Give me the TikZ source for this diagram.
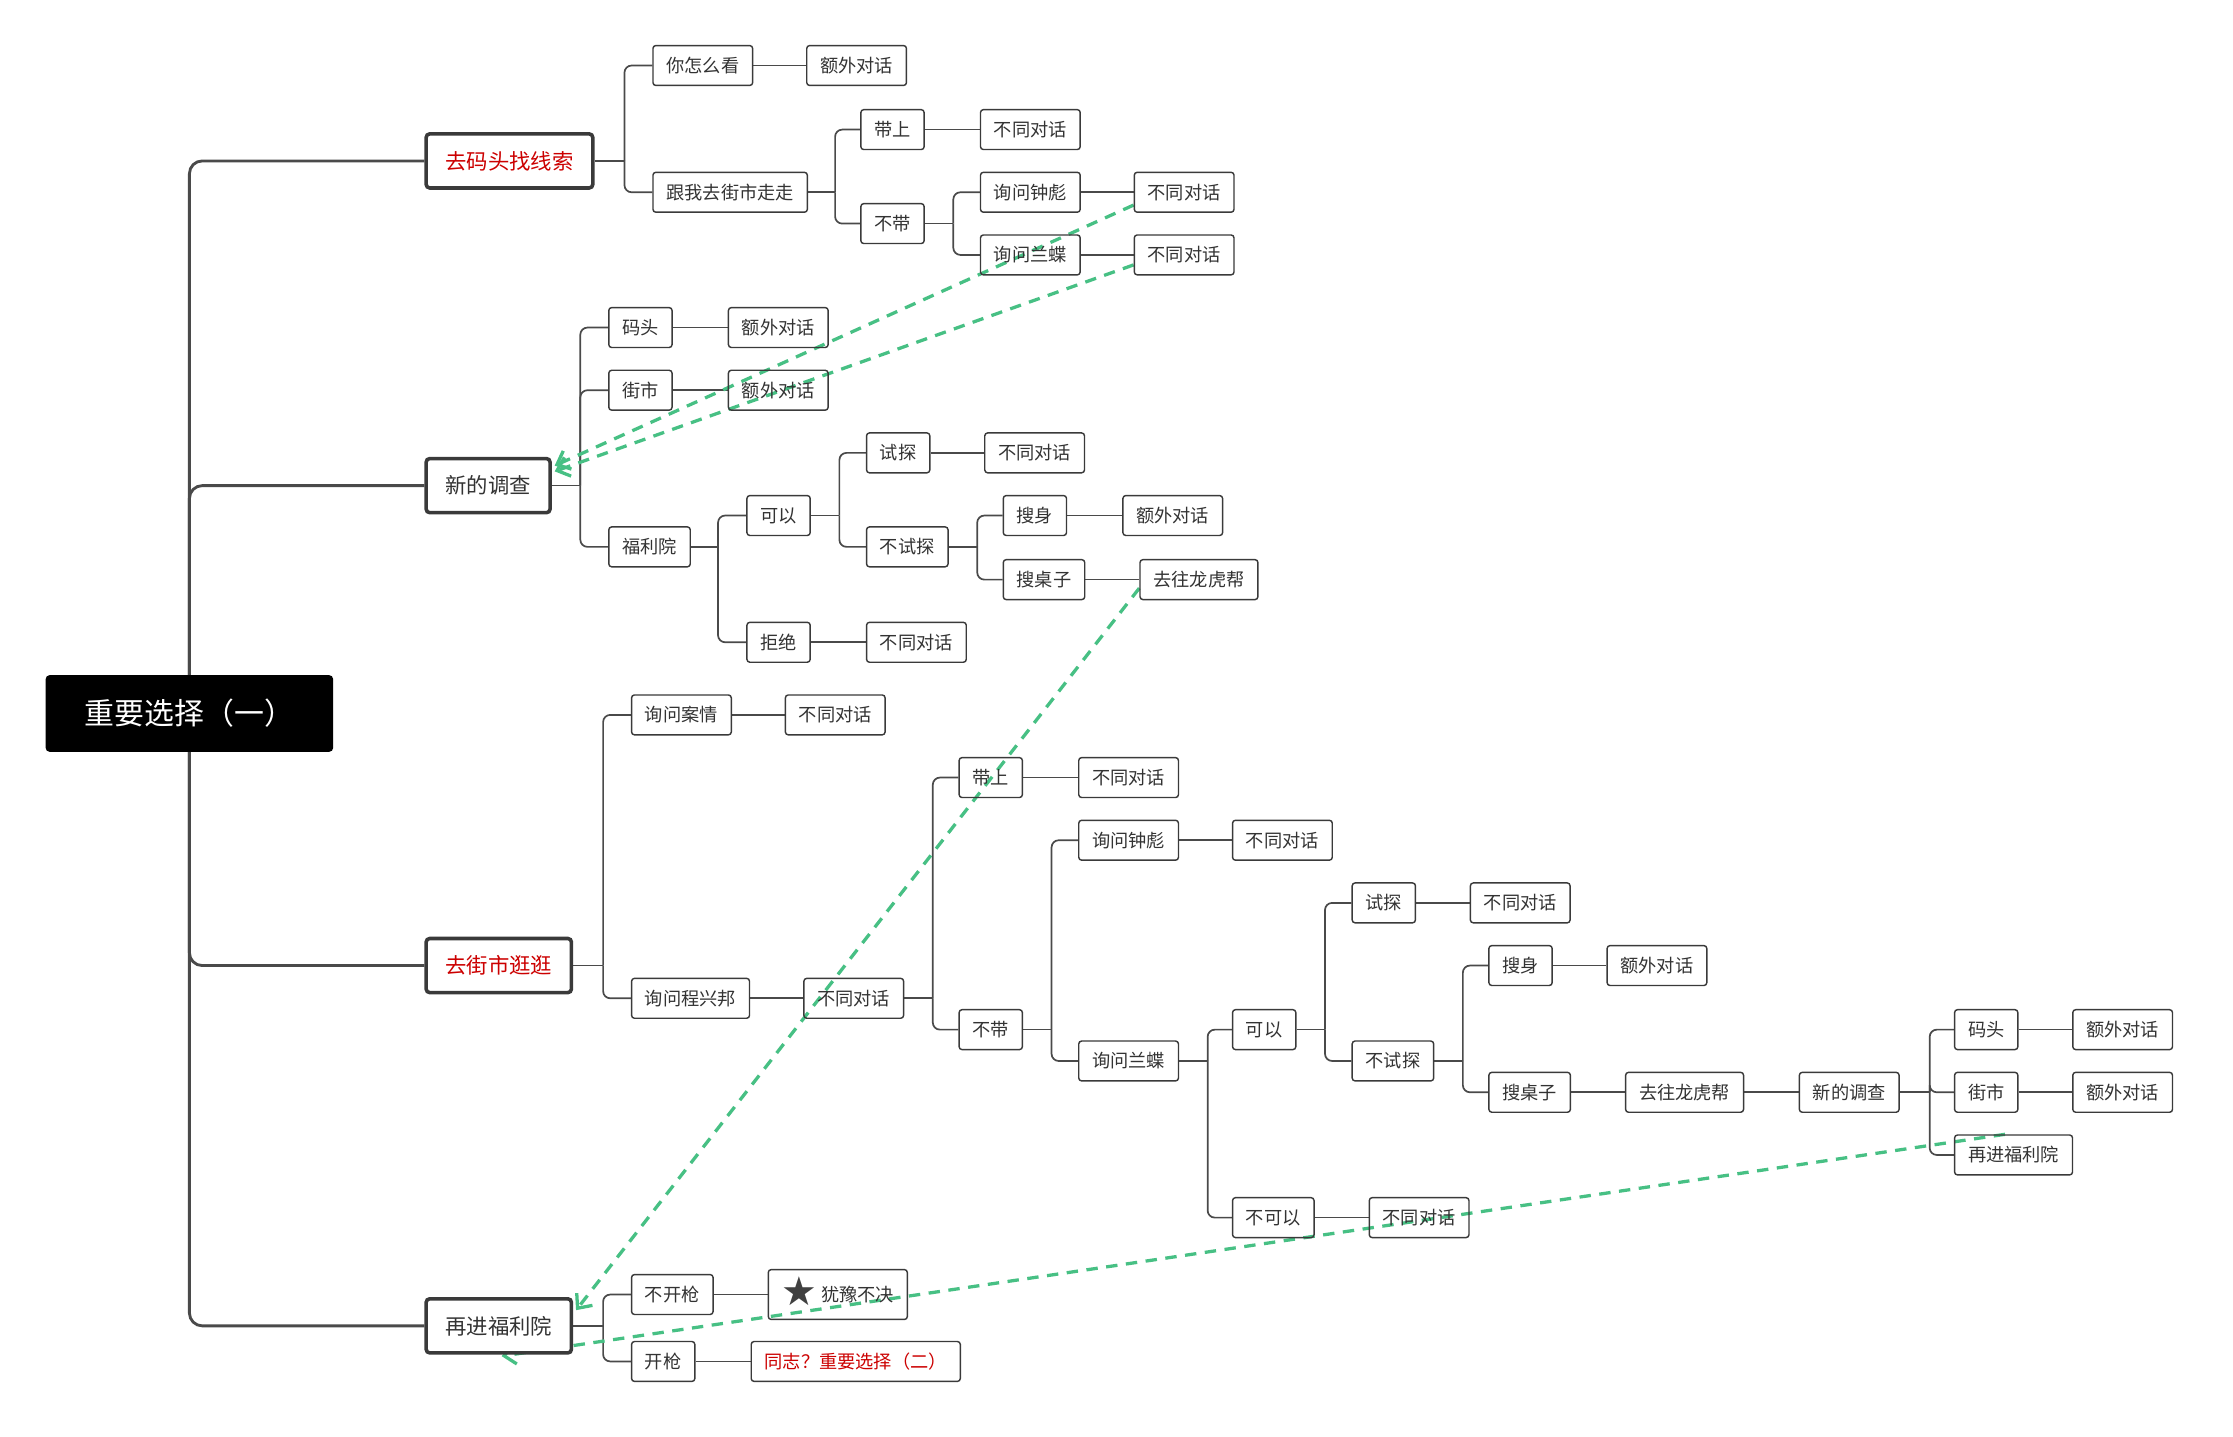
\documentclass[tikz,border=0pt]{standalone}
\usepackage{fontspec}
\newfontfamily\cjk{Noto Sans CJK SC}
\newfontfamily\symf{DejaVu Sans}
\usetikzlibrary{arrows.meta,calc,backgrounds}
\definecolor{linec}{HTML}{4A4A4A}
\definecolor{boxc}{HTML}{3A3A3A}
\definecolor{txtc}{HTML}{333333}
\definecolor{redc}{HTML}{CC0000}
\definecolor{relc}{HTML}{47C084}
\definecolor{starc}{HTML}{404040}
\pgfdeclarelayer{rellayer}
\pgfsetlayers{background,rellayer,main}
\tikzset{
 sm/.style={draw=boxc, line width=1pt, rounded corners=2pt, text=txtc,
   font=\cjk\fontsize{12.8}{14}\selectfont, inner xsep=9.4pt, inner ysep=0pt,
   minimum height=28pt, anchor=west},
 smred/.style={sm, text=redc},
 lv/.style={draw=boxc, line width=2.5pt, rounded corners=2.5pt, fill=white, text=txtc,
   font=\cjk\fontsize{15}{17}\selectfont, inner xsep=13.5pt, inner ysep=0pt,
   minimum height=38pt, anchor=west},
 lvred/.style={lv, text=redc},
 rootbox/.style={fill=black, rounded corners=3pt, text=white,
   font=\cjk\fontsize{21}{24}\selectfont, minimum width=202pt, minimum height=54pt, inner sep=0pt},
 conn/.style={draw=linec, line width=1.2pt},
 trunk/.style={draw=linec, line width=2pt, rounded corners=9pt},
 rel/.style={draw=relc, line width=2.3pt, dash pattern=on 8pt off 6pt,
   -{Straight Barb[length=8pt,width=14pt]}},
}
\newcommand\mmstub[2]{\draw[conn] (#1.east) -- ++(#2,0);}
\newcommand\mmkid[3]{\draw[conn,rounded corners=5pt] ($(#1.east)+(#3,0)$) |- (#2.west);}
\newcommand\mmlnk[2]{\draw[conn] (#1.east) -- (#2.west);}
\begin{document}
\begin{tikzpicture}[x=1pt,y=-1pt]
\useasboundingbox (0,0) rectangle (1568,1009);
% root and level 1
\node[rootbox] (root) at (133,501) {重要选择（一）};
\node[lvred] (L1a) at (298,113) {去码头找线索};
\node[lv] (L1b) at (298,341) {新的调查};
\node[lvred] (L1c) at (298,678) {去街市逛逛};
\node[lv] (L1d) at (298,931) {再进福利院};
% branch a
\node[sm] (a1) at (458,46) {你怎么看};
\node[sm] (a1d) at (566,46) {额外对话};
\node[sm] (a2) at (458,135) {跟我去街市走走};
\node[sm] (a21) at (604,91) {带上};
\node[sm] (a21d) at (688,91) {不同对话};
\node[sm] (a22) at (604,157) {不带};
\node[sm] (a221) at (688,135) {询问钟彪};
\node[sm] (a221d) at (796,135) {不同对话};
\node[sm] (a222) at (688,179) {询问兰蝶};
\node[sm] (a222d) at (796,179) {不同对话};
% branch b
\node[sm] (b1) at (427,230) {码头};
\node[sm] (b1d) at (511,230) {额外对话};
\node[sm] (b2) at (427,274) {街市};
\node[sm] (b2d) at (511,274) {额外对话};
\node[sm] (b3) at (427,384) {福利院};
\node[sm] (b31) at (524,362) {可以};
\node[sm] (b311) at (608,318) {试探};
\node[sm] (b311d) at (691,318) {不同对话};
\node[sm] (b312) at (608,384) {不试探};
\node[sm] (b3121) at (704,362) {搜身};
\node[sm] (b3121d) at (788,362) {额外对话};
\node[sm] (b3122) at (704,407) {搜桌子};
\node[sm] (b3122d) at (800,407) {去往龙虎帮};
\node[sm] (b32) at (524,451) {拒绝};
\node[sm] (b32d) at (608,451) {不同对话};
% branch c
\node[sm] (c1) at (443,502) {询问案情};
\node[sm] (c1d) at (551,502) {不同对话};
\node[sm] (c2) at (443,701) {询问程兴邦};
\node[sm] (c2d) at (564,701) {不同对话};
\node[sm] (c21) at (673,546) {带上};
\node[sm] (c21d) at (757,546) {不同对话};
\node[sm] (c22) at (673,723) {不带};
\node[sm] (c221) at (757,590) {询问钟彪};
\node[sm] (c221d) at (865,590) {不同对话};
\node[sm] (c222) at (757,745) {询问兰蝶};
\node[sm] (c2221) at (865,723) {可以};
\node[sm] (c22211) at (949,634) {试探};
\node[sm] (c22211d) at (1032,634) {不同对话};
\node[sm] (c22212) at (949,745) {不试探};
\node[sm] (c222121) at (1045,678) {搜身};
\node[sm] (c222121d) at (1128,678) {额外对话};
\node[sm] (c222122) at (1045,767) {搜桌子};
\node[sm] (lhb2) at (1141,767) {去往龙虎帮};
\node[sm] (xdc2) at (1263,767) {新的调查};
\node[sm] (m1) at (1372,723) {码头};
\node[sm] (m1d) at (1455,723) {额外对话};
\node[sm] (m2) at (1372,767) {街市};
\node[sm] (m2d) at (1455,767) {额外对话};
\node[sm] (m3) at (1372,811) {再进福利院};
\node[sm] (c2222) at (865,855) {不可以};
\node[sm] (c2222d) at (961,855) {不同对话};
% branch d
\node[sm] (d1) at (443,909) {不开枪};
\node[sm, minimum height=35pt] (d1d) at (539,909) {\smash{\raisebox{-3pt}{\symf\fontsize{28}{28}\selectfont\color{starc}★}}\hspace{2.5pt}犹豫不决};
\node[sm] (d2) at (443,956) {开枪};
\node[smred] (d2d) at (527,956) {同志？重要选择（二）};

\begin{pgfonlayer}{background}
\fill[white] (0,0) rectangle (1568,1009);
\draw[trunk] (root.center) |- (L1a.west);
\draw[trunk] (root.center) |- (L1b.west);
\draw[trunk] (root.center) |- (L1c.west);
\draw[trunk] (root.center) |- (L1d.west);
% a
\mmstub{L1a}{21} \mmkid{L1a}{a1}{21} \mmkid{L1a}{a2}{21}
\mmlnk{a1}{a1d}
\mmstub{a2}{19} \mmkid{a2}{a21}{19} \mmkid{a2}{a22}{19}
\mmlnk{a21}{a21d}
\mmstub{a22}{20} \mmkid{a22}{a221}{20} \mmkid{a22}{a222}{20}
\mmlnk{a221}{a221d} \mmlnk{a222}{a222d}
% b
\mmstub{L1b}{20} \mmkid{L1b}{b1}{20} \mmkid{L1b}{b2}{20} \mmkid{L1b}{b3}{20}
\mmlnk{b1}{b1d} \mmlnk{b2}{b2d}
\mmstub{b3}{19} \mmkid{b3}{b31}{19} \mmkid{b3}{b32}{19}
\mmstub{b31}{20} \mmkid{b31}{b311}{20} \mmkid{b31}{b312}{20}
\mmlnk{b311}{b311d}
\mmstub{b312}{20} \mmkid{b312}{b3121}{20} \mmkid{b312}{b3122}{20}
\mmlnk{b3121}{b3121d} \mmlnk{b3122}{b3122d}
\mmlnk{b32}{b32d}
% c
\mmstub{L1c}{21} \mmkid{L1c}{c1}{21} \mmkid{L1c}{c2}{21}
\mmlnk{c1}{c1d} \mmlnk{c2}{c2d}
\mmstub{c2d}{20} \mmkid{c2d}{c21}{20} \mmkid{c2d}{c22}{20}
\mmlnk{c21}{c21d}
\mmstub{c22}{20} \mmkid{c22}{c221}{20} \mmkid{c22}{c222}{20}
\mmlnk{c221}{c221d}
\mmstub{c222}{20} \mmkid{c222}{c2221}{20} \mmkid{c222}{c2222}{20}
\mmstub{c2221}{20} \mmkid{c2221}{c22211}{20} \mmkid{c2221}{c22212}{20}
\mmlnk{c22211}{c22211d}
\mmstub{c22212}{20} \mmkid{c22212}{c222121}{20} \mmkid{c22212}{c222122}{20}
\mmlnk{c222121}{c222121d}
\mmlnk{c222122}{lhb2} \mmlnk{lhb2}{xdc2}
\mmstub{xdc2}{21} \mmkid{xdc2}{m1}{21} \mmkid{xdc2}{m2}{21} \mmkid{xdc2}{m3}{21}
\mmlnk{m1}{m1d} \mmlnk{m2}{m2d}
\mmlnk{c2222}{c2222d}
% d
\mmstub{L1d}{21} \mmkid{L1d}{d1}{21} \mmkid{L1d}{d2}{21}
\mmlnk{d1}{d1d} \mmlnk{d2}{d2d}
\end{pgfonlayer}

\begin{pgfonlayer}{rellayer}
\draw[rel] ($(a221d.west)+(0,9)$) -- ($(L1b.east)+(2,-14)$);
\draw[rel] ($(a222d.west)+(0,7)$) -- ($(L1b.east)+(2,-10)$);
\draw[rel] ($(b3122d.west)+(0,6)$) -- ($(L1d.east)+(2,-11)$);
\draw[rel] ($(m3.north)+(-6,0)$) -- ($(L1d.south)+(2,1)$);
\end{pgfonlayer}
\end{tikzpicture}
\end{document}
